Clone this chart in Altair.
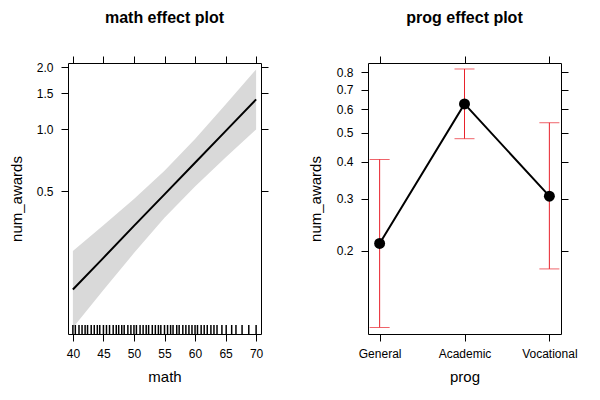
import altair as alt
import pandas as pd

# ---- data ----
math_x = [40, 45, 50, 55, 60, 65, 70]
math_fit = [0.167, 0.238, 0.340, 0.484, 0.689, 0.981, 1.398]
math_lower = [0.109, 0.166, 0.251, 0.372, 0.528, 0.730, 1.000]
math_upper = [0.257, 0.343, 0.459, 0.630, 0.898, 1.319, 1.954]

rug_math = [40.0, 40.4, 41.0, 41.5, 42.0, 42.4, 43.0, 43.5, 44.0, 44.4, 45.0, 45.5,
            46.0, 46.6, 47.1, 47.5, 48.0, 48.4, 49.0, 49.5, 50.0, 50.4, 51.0, 51.5,
            52.0, 52.4, 53.0, 53.5, 54.0, 54.4, 55.0, 55.5, 56.0, 56.4, 57.0, 57.4,
            58.0, 58.5, 59.0, 59.5, 60.0, 60.4, 61.0, 61.5, 62.0, 62.6, 63.1, 63.6,
            64.4, 65.1, 66.0, 66.7, 67.7, 68.8, 70.0]

prog_levels = ["General", "Academic", "Vocational"]
prog_fit = [0.212, 0.626, 0.306]
prog_lower = [0.1105, 0.478, 0.174]
prog_upper = [0.407, 0.821, 0.541]

math_ticks = [40, 45, 50, 55, 60, 65, 70]
math_yticks = [0.5, 1.0, 1.5, 2.0]
prog_yticks = [0.2, 0.3, 0.4, 0.5, 0.6, 0.7, 0.8]

# ---- layout / style ----
W, H = 193, 271
FONT = "Liberation Sans"
RED = "#e8222b"

math_df = pd.DataFrame({"math": math_x, "fit": math_fit,
                        "lower": math_lower, "upper": math_upper})
rug_df = pd.DataFrame({"math": rug_math})
prog_df = pd.DataFrame({"prog": prog_levels, "fit": prog_fit,
                        "lower": prog_lower, "upper": prog_upper})

common = dict(domain=False, grid=False, tickColor="black", tickSize=7, tickWidth=1,
              labelFont=FONT, labelFontSize=12, labelColor="black",
              titleFont=FONT, titleFontSize=15, titleFontWeight="normal",
              titleColor="black")

def title(t):
    return alt.TitleParams(t, font=FONT, fontSize=16, fontWeight="bold",
                           color="black", anchor="middle", offset=30)

# ---------- math panel ----------
xs = alt.Scale(domain=[39.2, 70.8], nice=False, zero=False)
ys1 = alt.Scale(type="log", domain=[0.1016, 2.10], nice=False)

band = alt.Chart(math_df).mark_area(color="#d9d9d9", clip=True).encode(
    x=alt.X("math:Q", scale=xs, title="math",
            axis=alt.Axis(values=math_ticks, labelPadding=7, titlePadding=10, **common)),
    y=alt.Y("lower:Q", scale=ys1, title="num_awards",
            axis=alt.Axis(values=math_yticks, format=".1f", labelPadding=8,
                          titlePadding=12, **common)),
    y2="upper:Q",
)
fitline = alt.Chart(math_df).mark_line(color="black", strokeWidth=2, clip=True).encode(
    x=alt.X("math:Q", scale=xs,
            axis=alt.Axis(orient="top", values=math_ticks, labels=False, title=None, **common)),
    y=alt.Y("fit:Q", scale=ys1,
            axis=alt.Axis(orient="right", values=math_yticks, labels=False, title=None, **common)),
)
rug = alt.Chart(rug_df).mark_rule(color="black", strokeWidth=1.5).encode(
    x=alt.X("math:Q", scale=xs, axis=None),
    y=alt.value(H - 9),
    y2=alt.value(H),
)
left = alt.layer(band, fitline, rug).resolve_axis(x="independent", y="independent").properties(
    width=W, height=H, title=title("math effect plot"))

# ---------- prog panel ----------
xp = alt.Scale(type="point", domain=prog_levels, padding=0.137)
ys2 = alt.Scale(type="log", domain=[0.105, 0.86], nice=False)

err = alt.Chart(prog_df).mark_rule(color=RED, strokeWidth=1).encode(
    x=alt.X("prog:N", scale=xp, sort=prog_levels, title="prog",
            axis=alt.Axis(labelAngle=0, labelPadding=7, titlePadding=10, **common)),
    y=alt.Y("lower:Q", scale=ys2, title="num_awards",
            axis=alt.Axis(values=prog_yticks, format=".1f", labelPadding=8,
                          titlePadding=13, **common)),
    y2="upper:Q",
)
cap_hi = alt.Chart(prog_df).mark_tick(color=RED, size=20, thickness=1).encode(
    x=alt.X("prog:N", scale=xp, sort=prog_levels, axis=None),
    y=alt.Y("upper:Q", scale=ys2, axis=None),
)
cap_lo = alt.Chart(prog_df).mark_tick(color=RED, size=20, thickness=1).encode(
    x=alt.X("prog:N", scale=xp, sort=prog_levels, axis=None),
    y=alt.Y("lower:Q", scale=ys2, axis=None),
)
pline = alt.Chart(prog_df).mark_line(color="black", strokeWidth=2).encode(
    x=alt.X("prog:N", scale=xp, sort=prog_levels,
            axis=alt.Axis(orient="top", labels=False, title=None, **common)),
    y=alt.Y("fit:Q", scale=ys2,
            axis=alt.Axis(orient="right", values=prog_yticks, labels=False, title=None, **common)),
)
pts = alt.Chart(prog_df).mark_point(color="black", filled=True, opacity=1, size=120).encode(
    x=alt.X("prog:N", scale=xp, sort=prog_levels, axis=None),
    y=alt.Y("fit:Q", scale=ys2, axis=None),
)
right = alt.layer(err, cap_hi, cap_lo, pline, pts).resolve_axis(
    x="independent", y="independent").properties(
    width=W, height=H, title=title("prog effect plot"))

chart = alt.hconcat(left, right, spacing=38).properties(
    padding={"left": 0, "top": 1, "right": 5, "bottom": 5},
    background="white",
).configure_view(stroke="black", strokeWidth=1)

chart.save("out.html", embed_options={"renderer": "svg", "actions": False})
